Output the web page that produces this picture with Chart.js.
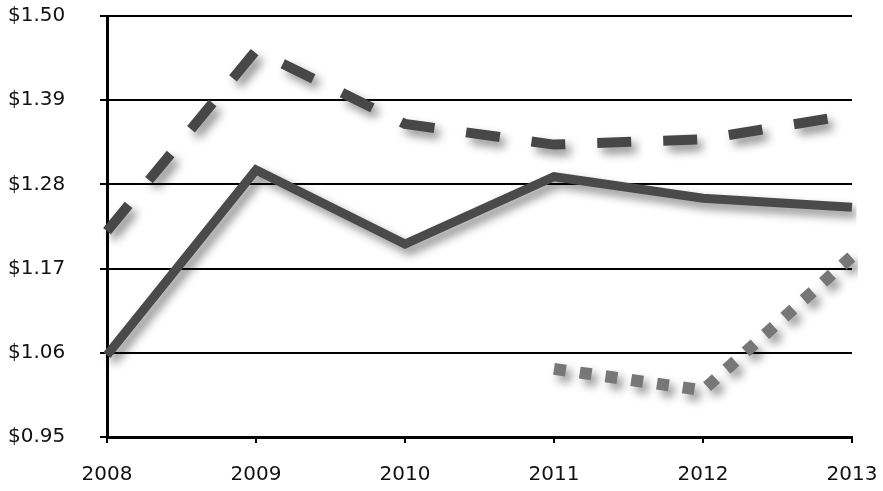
<!DOCTYPE html>
<html>
<head>
<meta charset="utf-8">
<script src="https://cdn.jsdelivr.net/npm/chart.js@4"></script>
<style>
  html, body { margin: 0; padding: 0; background: #fff; }
  #wrap { width: 883px; height: 491px; }
</style>
</head>
<body>
<div id="wrap"><canvas id="chart"></canvas></div>
<script>
const years = ['2008', '2009', '2010', '2011', '2012', '2013'];
const solidLine = [1.057, 1.299, 1.202, 1.290, 1.262, 1.250];
const dashedLine = [1.219, 1.455, 1.359, 1.332, 1.339, 1.371];
const dottedLine = [null, null, null, 1.039, 1.011, 1.186];
const yTicks = [0.95, 1.06, 1.17, 1.28, 1.39, 1.50];

// soft drop shadow under each line
const shadow = {
  id: 'shadow',
  beforeDatasetDraw(chart) {
    const c = chart.ctx;
    c.save();
    c.shadowColor = 'rgba(0,0,0,0.45)';
    c.shadowBlur = 10;
    c.shadowOffsetX = 5;
    c.shadowOffsetY = 6;
  },
  afterDatasetDraw(chart) {
    chart.ctx.restore();
  }
};

let ctx = document.getElementById('chart').getContext('2d');

let chart = new Chart(ctx, {
  type: 'line',
  data: {
    labels: years,
    datasets: [
      {
        label: 'solid',
        data: solidLine,
        borderColor: '#4a4a4a',
        borderWidth: 9,
        pointRadius: 0,
        tension: 0
      },
      {
        label: 'dashed',
        data: dashedLine,
        borderColor: '#474747',
        borderWidth: 10,
        borderDash: [34, 32],
        borderCapStyle: 'butt',
        pointRadius: 0,
        tension: 0
      },
      {
        label: 'dotted',
        data: dottedLine,
        borderColor: '#777777',
        borderWidth: 12,
        borderDash: [12, 14],
        borderCapStyle: 'butt',
        pointRadius: 0,
        tension: 0,
        spanGaps: false
      }
    ]
  },
  plugins: [shadow],
  options: {
    responsive: true,
    maintainAspectRatio: false,
    animation: false,
    layout: { padding: { left: 8, right: 31, top: 5, bottom: 0 } },
    plugins: {
      legend: { display: false },
      tooltip: { enabled: false }
    },
    scales: {
      x: {
        offset: false,
        afterFit(axis) {
          axis.height = 54;
          axis.paddingLeft = 0;
          axis.paddingRight = 0;
        },
        grid: {
          drawOnChartArea: false,
          drawTicks: true,
          tickLength: 6,
          color: '#000',
          lineWidth: 2
        },
        border: { color: '#000', width: 3 },
        ticks: {
          color: '#111',
          padding: 20,
          maxRotation: 0,
          font: { family: 'DejaVu Sans', size: 20 }
        }
      },
      y: {
        min: 0.95,
        max: 1.50,
        afterBuildTicks(axis) {
          axis.ticks = yTicks.map(v => ({ value: v }));
        },
        afterFit(axis) {
          axis.width = 99;
        },
        grid: {
          color: '#000',
          lineWidth: 2,
          tickLength: 7
        },
        border: { color: '#000', width: 3 },
        ticks: {
          color: '#111',
          padding: 4,
          crossAlign: 'far',
          font: { family: 'DejaVu Sans', size: 20 },
          callback: v => '$' + Number(v).toFixed(2)
        }
      }
    }
  }
});
</script>
</body>
</html>
